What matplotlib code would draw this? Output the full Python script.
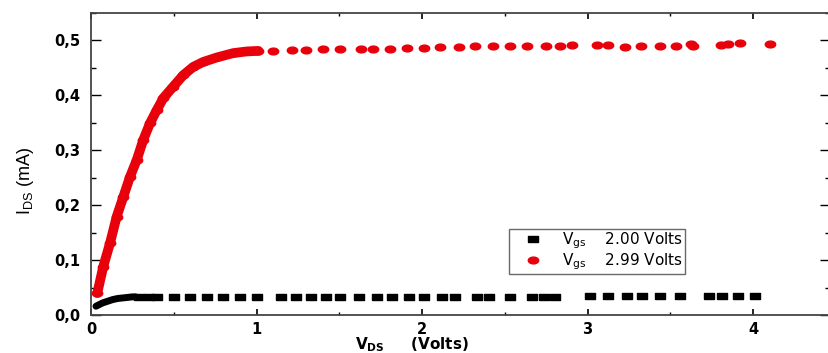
import numpy as np
import matplotlib.pyplot as plt
from matplotlib.ticker import MultipleLocator

plt.rcParams['font.family'] = ['Liberation Sans', 'DejaVu Sans']
plt.rcParams['mathtext.fontset'] = 'custom'
plt.rcParams['mathtext.rm'] = 'DejaVu Sans'
plt.rcParams['mathtext.bf'] = 'DejaVu Sans:bold'

# Vgs = 2.99 V, dense rising part and sparse saturation points
vds_red_dense = [0.038, 0.074, 0.115, 0.155, 0.195, 0.236, 0.276, 0.316, 0.356,
                 0.397, 0.437, 0.497, 0.558, 0.618, 0.679, 0.760, 0.860, 0.941, 1.011]
ids_red_dense = [0.040, 0.088, 0.131, 0.179, 0.215, 0.252, 0.282, 0.319, 0.349,
                 0.373, 0.395, 0.416, 0.437, 0.452, 0.461, 0.469, 0.477, 0.480, 0.481]
vds_red = [1.100, 1.216, 1.301, 1.402, 1.502, 1.633, 1.703, 1.808, 1.908, 2.014,
           2.111, 2.225, 2.323, 2.428, 2.534, 2.633, 2.750, 2.834, 2.909, 3.057,
           3.124, 3.226, 3.321, 3.437, 3.533, 3.628, 3.640, 3.804, 3.850, 3.920, 4.104]
ids_red = [0.481, 0.482, 0.482, 0.484, 0.485, 0.485, 0.485, 0.485, 0.487, 0.487,
           0.488, 0.488, 0.489, 0.489, 0.489, 0.490, 0.490, 0.490, 0.492, 0.492,
           0.492, 0.488, 0.489, 0.490, 0.490, 0.494, 0.490, 0.491, 0.494, 0.495, 0.494]

# Vgs = 2.00 V
vds_blk_dense = [0.03, 0.05, 0.07, 0.10, 0.13, 0.16, 0.19, 0.22, 0.25, 0.27]
ids_blk_dense = [0.016, 0.019, 0.022, 0.025, 0.028, 0.030, 0.031, 0.032, 0.033, 0.033]
vds_blk = [0.29, 0.35, 0.40, 0.50, 0.60, 0.70, 0.80, 0.90, 1.00, 1.145, 1.236,
           1.327, 1.42, 1.506, 1.617, 1.728, 1.819, 1.919, 2.010, 2.121, 2.201,
           2.332, 2.402, 2.534, 2.665, 2.735, 2.806, 3.015, 3.126, 3.237, 3.328,
           3.439, 3.560, 3.731, 3.812, 3.912, 4.013]
ids_blk = [0.033] * 27 + [0.034] * 10

labels = [r'V$_{\mathregular{gs}}$    2.00 Volts', r'V$_{\mathregular{gs}}$    2.99 Volts']
yticks = [0.0, 0.1, 0.2, 0.3, 0.4, 0.5]
yticklabels = ['0,0', '0,1', '0,2', '0,3', '0,4', '0,5']
xticks = [0, 1, 2, 3, 4]

# stretched markers (the original picture is squeezed vertically)
t = np.linspace(0, 2 * np.pi, 40)
ellipse = list(zip(np.cos(t), 0.65 * np.sin(t)))
rect = [(-1, -0.6), (1, -0.6), (1, 0.6), (-1, 0.6), (-1, -0.6)]

fig = plt.figure(figsize=(8.29, 3.53), dpi=100)
ax = fig.add_axes([91 / 829, 38 / 353, 739 / 829, 302 / 353])

red = '#e8000b'
ax.plot(vds_red_dense, ids_red_dense, '-', color=red, lw=7, solid_capstyle='round')
ax.plot(vds_red_dense, ids_red_dense, ls='none', marker=ellipse, ms=7.5, color=red)
h2, = ax.plot(vds_red, ids_red, ls='none', marker=ellipse, ms=7.5, color=red, mec=red)

ax.plot(vds_blk_dense, ids_blk_dense, '-', color='black', lw=5.0, solid_capstyle='round')
h1, = ax.plot(vds_blk, ids_blk, ls='none', marker=rect, ms=7.5, color='black')

ax.set_xlim(0, 4.465)
ax.set_ylim(0, 0.55)
ax.set_xticks(xticks)
ax.set_xticklabels([str(v) for v in xticks])
ax.set_yticks(yticks)
ax.set_yticklabels(yticklabels)
ax.xaxis.set_minor_locator(MultipleLocator(0.5))
ax.yaxis.set_minor_locator(MultipleLocator(0.05))

ax.tick_params(axis='x', which='major', direction='in', length=4, width=1.2,
               top=True, pad=5)
ax.tick_params(axis='x', which='minor', direction='in', length=2.5, width=1, top=True)
ax.tick_params(axis='y', which='major', direction='in', length=7, width=1,
               right=True, pad=8)
ax.tick_params(axis='y', which='minor', direction='in', length=3.5, width=1, right=True)
for lab in ax.get_xticklabels() + ax.get_yticklabels():
    lab.set_fontweight('bold')
    lab.set_fontfamily('DejaVu Sans')
    lab.set_fontsize(10.5)

for s in ax.spines.values():
    s.set_color('#444444')
    s.set_linewidth(1.3)

ax.set_xlabel(r'V$_{\mathbf{DS}}$     (Volts)', fontsize=11, fontweight='bold',
              family='DejaVu Sans')
ax.xaxis.set_label_coords(0.434, -0.068)
ax.set_ylabel(r'I$_{\mathregular{DS}}$ (mA)', fontsize=13)
ax.yaxis.set_label_coords(-0.075, 0.444)

leg = ax.legend([h1, h2], labels, loc='upper left', bbox_to_anchor=(0.566, 0.285),
                prop={'family': 'DejaVu Sans', 'size': 11}, frameon=True,
                fancybox=False, borderpad=0.12, labelspacing=0.0,
                handletextpad=0.45, handlelength=2.9, borderaxespad=0)
leg.get_frame().set_edgecolor('#444444')
leg.get_frame().set_linewidth(1.0)

fig.savefig('out.png', dpi=100)
